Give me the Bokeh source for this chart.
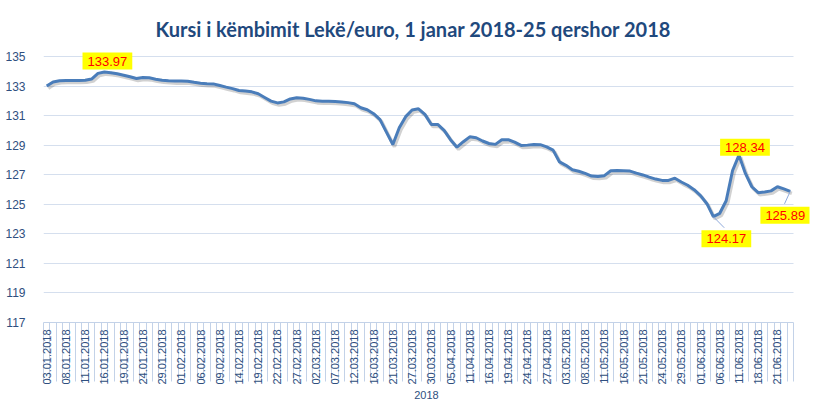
from math import pi
from bokeh.plotting import figure
from bokeh.models import Range1d, FixedTicker, Label, ColumnDataSource, BoxAnnotation
from bokeh.transform import dodge
from bokeh.embed import file_html
from bokeh.resources import INLINE

# ---- data ----
tick_labels = ["03.01.2018", "08.01.2018", "11.01.2018", "16.01.2018", "19.01.2018",
               "24.01.2018", "29.01.2018", "01.02.2018", "06.02.2018", "09.02.2018",
               "14.02.2018", "19.02.2018", "22.02.2018", "27.02.2018", "02.03.2018",
               "07.03.2018", "12.03.2018", "16.03.2018", "21.03.2018", "27.03.2018",
               "30.03.2018", "05.04.2018", "11.04.2018", "16.04.2018", "19.04.2018",
               "24.04.2018", "27.04.2018", "03.05.2018", "08.05.2018", "11.05.2018",
               "16.05.2018", "21.05.2018", "24.05.2018", "29.05.2018", "01.06.2018",
               "06.06.2018", "11.06.2018", "18.06.2018", "21.06.2018"]
label_step = 3
rates = [133.02, 133.30, 133.38, 133.40, 133.40, 133.40, 133.42, 133.50, 133.88, 133.97,
         133.93, 133.86, 133.76, 133.65, 133.53, 133.60, 133.58, 133.49, 133.42, 133.38,
         133.36, 133.36, 133.35, 133.28, 133.22, 133.18, 133.17, 133.06, 132.95, 132.85,
         132.72, 132.68, 132.63, 132.50, 132.25, 132.00, 131.88, 131.95, 132.15, 132.23,
         132.20, 132.12, 132.02, 132.00, 132.00, 131.98, 131.95, 131.90, 131.82, 131.55,
         131.42, 131.15, 130.75, 129.90, 129.06, 130.20, 130.95, 131.40, 131.48, 131.10,
         130.42, 130.42, 130.02, 129.39, 128.88, 129.25, 129.58, 129.52, 129.30, 129.13,
         129.07, 129.38, 129.39, 129.22, 129.00, 129.02, 129.06, 129.05, 128.90, 128.68,
         127.88, 127.65, 127.35, 127.25, 127.10, 126.92, 126.90, 126.95, 127.28, 127.30,
         127.28, 127.26, 127.12, 127.00, 126.85, 126.72, 126.63, 126.63, 126.78, 126.52,
         126.30, 126.00, 125.60, 125.05, 124.17, 124.40, 125.25, 127.30, 128.34, 127.10,
         126.20, 125.80, 125.85, 125.92, 126.20, 126.05, 125.89]
annotated = [9, 104, 108, 116]
y_ticks = list(range(117, 136, 2))
title_text = "Kursi i këmbimit Lekë/euro, 1 janar 2018-25 qershor 2018"
axis_group = "2018"

# ---- styles ----
BLUE = "#4A7DBA"
TXT = "#2F4F80"
GRID = "#D5DFEE"
RULE = "#C3D2E8"

n = len(rates)
idx = list(range(n))
src = ColumnDataSource(dict(i=idx, v=rates))
x_lo, x_hi = -0.5, n - 0.5

p = figure(width=812, height=409, output_backend="svg", toolbar_location=None,
           x_range=Range1d(x_lo, 119.0), y_range=Range1d(117, 135.5),
           min_border_left=43, min_border_right=3, min_border_top=49, min_border_bottom=87)
p.outline_line_color = None
p.background_fill_color = "white"
p.border_fill_color = "white"

p.title.text = title_text
p.title.align = "left"
p.title.offset = 112
p.title.text_font = "Lato"
p.title.text_font_size = "20px"
p.title.text_font_style = "bold"
p.title.text_color = "#1F497D"
p.title.standoff = 17

# y axis
p.yaxis.ticker = FixedTicker(ticks=y_ticks)
p.yaxis.axis_line_color = None
p.yaxis.major_tick_line_color = None
p.yaxis.minor_tick_line_color = None
p.yaxis.major_label_standoff = 12
p.yaxis.major_label_text_font = "Liberation Sans"
p.yaxis.major_label_text_font_size = "12px"
p.yaxis.major_label_text_color = TXT
p.ygrid.grid_line_color = GRID
p.xgrid.visible = False
g = p.ygrid[0]
if "cross_bounds" in g.properties():
    g.cross_bounds = (x_lo, x_hi)
else:
    p.add_layout(BoxAnnotation(left=x_hi, fill_color="white", fill_alpha=1,
                               line_color=None, level="underlay"))

# x axis
major = list(range(0, n, label_step))[:len(tick_labels)]
minor = [k - 0.5 for k in range(n + 1)]
p.xaxis.ticker = FixedTicker(ticks=major, minor_ticks=minor)
p.xaxis.bounds = (x_lo, x_hi)
p.xaxis.major_label_overrides = {m: t for m, t in zip(major, tick_labels)}
p.xaxis.major_tick_out = 0
p.xaxis.major_tick_in = 0
p.xaxis.major_tick_line_color = None
p.xaxis.minor_tick_out = 59
p.xaxis.minor_tick_in = 0
p.xaxis.minor_tick_line_color = RULE
p.xaxis.axis_line_color = RULE
p.xaxis.major_label_orientation = pi / 2
p.xaxis.major_label_standoff = 7 - 59
p.xaxis.major_label_text_font = "Liberation Sans"
p.xaxis.major_label_text_font_size = "11px"
p.xaxis.major_label_text_color = TXT
p.xaxis.axis_label = axis_group
p.xaxis.axis_label_standoff = 3
p.xaxis.axis_label_text_font = "Liberation Sans"
p.xaxis.axis_label_text_font_size = "11px"
p.xaxis.axis_label_text_font_style = "normal"
p.xaxis.axis_label_text_color = TXT

# shadow + line
p.line(x=dodge("i", 0.25, range=p.x_range), y=dodge("v", -0.14, range=p.y_range),
       source=src, line_color="#000000", line_alpha=0.18, line_width=3.5)
p.line("i", "v", source=src, line_color=BLUE, line_width=3)

# data labels
offsets = {9: (3, 11), 104: (13, -22), 108: (6, 8), 116: (-5, -24)}
leaders = {104: (1.7, -0.75), 116: (-0.9, -0.85)}
for k in annotated:
    dx, dy = offsets[k]
    p.add_layout(Label(x=k, y=rates[k], text="%.2f" % rates[k], x_offset=dx, y_offset=dy,
                       text_align="center", text_baseline="middle",
                       text_font="Liberation Sans", text_font_size="13px",
                       text_color="#FF0000", background_fill_color="#FFFF00",
                       padding=(5, 4)))
lsrc = ColumnDataSource(dict(i=[k for k in leaders], v=[rates[k] for k in leaders],
                             i1=[k + leaders[k][0] for k in leaders],
                             v1=[rates[k] + leaders[k][1] for k in leaders]))
p.segment("i", "v", "i1", "v1", source=lsrc, line_color="#8EA9DB", line_width=1)

open("out.html", "w").write(file_html(p, INLINE))
